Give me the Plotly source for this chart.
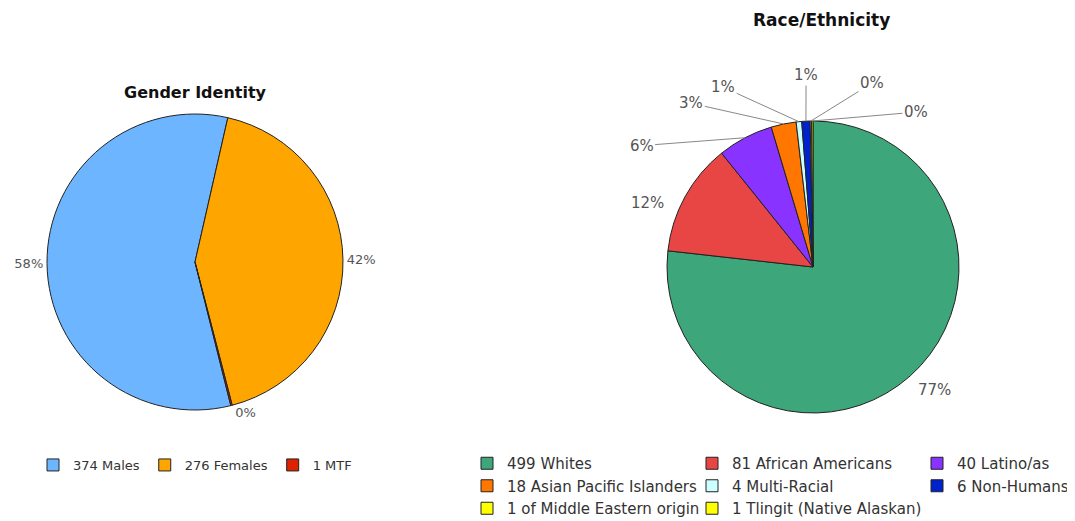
import math
import plotly.graph_objects as go

gender_labels = ["374 Males", "276 Females", "1 MTF"]
gender_values = [374, 276, 1]
gender_pct_text = ["58%", "42%", "0%"]
gender_colors = ["#6DB6FF", "#FFA500", "#DD2200"]

race_labels = ["499 Whites", "81 African Americans", "40 Latino/as",
               "18 Asian Pacific Islanders", "4 Multi-Racial", "6 Non-Humans",
               "1 of Middle Eastern origin", "1 Tlingit (Native Alaskan)"]
race_values = [499, 81, 40, 18, 4, 6, 1, 1]
race_colors = ["#3DA67A", "#E84545", "#8833FF", "#FF7700", "#CCFFFF",
               "#0022CC", "#FFFF00", "#FFFF00"]

# label placement style for race pie: angle nudge (deg), label distance (px), leader line
race_label_nudge = [-3, -7.6, -27, -25, -21, 0.7, 18.6, 33.9]
race_label_dist = [173, 177, 210, 204, 201, 192, 193, 186]
race_label_line = [False, False, True, True, True, True, True, True]

FONT = "DejaVu Sans"
PAGE_OFF = 8                    # browser body margin
W, H = 1075 - PAGE_OFF, 521 - PAGE_OFF
ML, PW = 36, 916                # plot-area left margin and width
MR = W - ML - PW

G_CX, G_CY, G_R = 195, 262, 148   # page pixels
R_CX, R_CY, R_R = 813, 267, 146


def fx(px):
    return (px - PAGE_OFF - ML) / PW


def fy(py):
    return 1 - (py - PAGE_OFF) / H


def dom(cx, cy, r):
    return dict(x=[fx(cx - r), fx(cx + r)], y=[fy(cy + r), fy(cy - r)])


fig = go.Figure()
fig.add_trace(go.Pie(
    labels=gender_labels, values=gender_values, sort=False, direction="clockwise",
    rotation=166, marker=dict(colors=gender_colors, line=dict(color="#222222", width=1)),
    textposition="outside", text=gender_pct_text, textinfo="text",
    outsidetextfont=dict(family=FONT, size=13, color="#555555"),
    domain=dom(G_CX, G_CY, G_R), legend="legend", showlegend=True,
))

race_total = sum(race_values)
race_pct = [f"{round(100 * v / race_total)}%" for v in race_values]

fig.add_trace(go.Pie(
    labels=race_labels, values=race_values, sort=False, direction="clockwise",
    rotation=0, marker=dict(colors=race_colors, line=dict(color="#222222", width=1)),
    textinfo="none",
    domain=dom(R_CX, R_CY, R_R), legend="legend2", showlegend=True,
))

annotations = [
    dict(text="<b>Gender Identity</b>", x=fx(195), y=fy(92), xref="paper", yref="paper",
         xanchor="center", yanchor="middle", showarrow=False,
         font=dict(family=FONT, size=16, color="#111111")),
    dict(text="<b>Race/Ethnicity</b>", x=fx(821), y=fy(20), xref="paper", yref="paper",
         xanchor="center", yanchor="middle", showarrow=False,
         font=dict(family=FONT, size=17, color="#111111")),
]

cum = 0.0
for v, p, nudge, dist, line in zip(race_values, race_pct, race_label_nudge,
                                   race_label_dist, race_label_line):
    mid = (cum + v / 2) / race_total * 360
    cum += v
    b = math.radians(mid + nudge)
    lx = R_CX + dist * math.sin(b)
    ly = R_CY - dist * math.cos(b)
    font = dict(family=FONT, size=15, color="#555555")
    if not line:
        annotations.append(dict(text=p, x=fx(lx), y=fy(ly), xref="paper", yref="paper",
                                xanchor="center", yanchor="middle", showarrow=False,
                                font=font))
        continue
    a = math.radians(mid)
    rim_x = R_CX + R_R * math.sin(a)
    rim_y = R_CY - R_R * math.cos(a)
    annotations.append(dict(
        text=p, x=fx(rim_x), y=fy(rim_y), xref="paper", yref="paper",
        ax=lx - rim_x, ay=ly - rim_y, axref="pixel", ayref="pixel",
        showarrow=True, arrowhead=0, arrowwidth=1, arrowcolor="#888888",
        standoff=0, startstandoff=0, font=font,
    ))

fig.update_layout(
    width=W, height=H, margin=dict(l=ML, r=MR, t=0, b=0, autoexpand=False),
    paper_bgcolor="white", plot_bgcolor="white",
    font=dict(family=FONT, color="#333333"),
    legend=dict(orientation="h", x=fx(195), y=fy(450), xanchor="center", yanchor="top",
                font=dict(family=FONT, size=13, color="#333333"), itemwidth=30,
                bgcolor="rgba(0,0,0,0)", traceorder="normal"),
    legend2=dict(orientation="h", x=fx(507 - 22 - 40), y=fy(425), xanchor="left", yanchor="top",
                 font=dict(family=FONT, size=15, color="#333333"), itemwidth=30,
                 entrywidth=180, borderwidth=22, bordercolor="rgba(0,0,0,0)",
                 bgcolor="rgba(0,0,0,0)", traceorder="normal"),
    annotations=annotations,
)
fig.write_html("out.html")
